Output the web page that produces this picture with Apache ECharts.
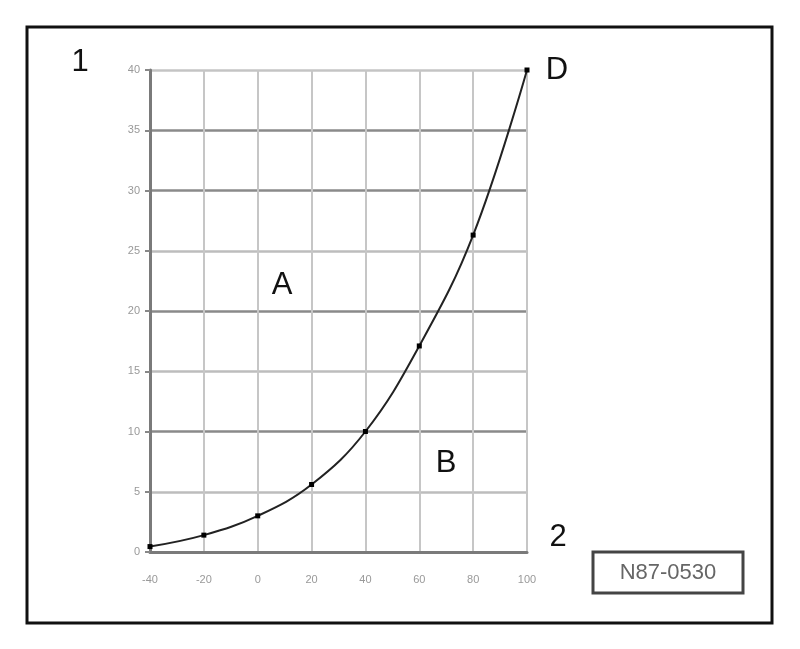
<!DOCTYPE html>
<html>
<head>
<meta charset="utf-8">
<script src="https://cdn.jsdelivr.net/npm/echarts@6/dist/echarts.min.js"></script>
<style>html,body{margin:0;padding:0;background:#fff}#c{width:800px;height:649px}</style>
</head>
<body>
<div id="c"></div>
<script>
var xValues = [-40, -20, 0, 20, 40, 60, 80, 100];
var yValues = [0.45, 1.4, 3.0, 5.6, 10.0, 17.1, 26.3, 40.0];
var xTicks = [-40, -20, 0, 20, 40, 60, 80, 100];
var yTicks = [0, 5, 10, 15, 20, 25, 30, 35, 40];
var hGridColors = ['#888', '#bdbdbd', '#8a8a8a', '#bdbdbd', '#8a8a8a', '#bdbdbd', '#8a8a8a', '#8a8a8a', '#c4c4c4'];
var cornerLabels = [
  {text: '1', x: 80, y: 62},
  {text: 'D', x: 557, y: 70},
  {text: 'A', x: 282, y: 285},
  {text: 'B', x: 446, y: 463},
  {text: '2', x: 558, y: 537}
];
var boxLabel = 'N87-0530';

var chart = echarts.init(document.getElementById('c'));
var graphics = [
  {type: 'rect', shape: {x: 27, y: 27, width: 745, height: 596}, style: {fill: 'none', stroke: '#111', lineWidth: 3}, z: 10},
  {type: 'rect', shape: {x: 593, y: 552, width: 150, height: 41}, style: {fill: '#fff', stroke: '#444', lineWidth: 3}, z: 10},
  {type: 'text', x: 668, y: 573, style: {text: boxLabel, fill: '#666', font: '22px "Liberation Sans", Arial, sans-serif', textAlign: 'center', textVerticalAlign: 'middle'}, z: 11}
];
cornerLabels.forEach(function (l) {
  graphics.push({type: 'text', x: l.x, y: l.y, style: {text: l.text, fill: '#111', font: '31px "Liberation Sans", Arial, sans-serif', textAlign: 'center', textVerticalAlign: 'middle'}, z: 11});
});

chart.setOption({
  animation: false,
  backgroundColor: '#fff',
  grid: {left: 150, right: 273, top: 70, bottom: 97, containLabel: false},
  xAxis: {
    type: 'value', min: -40, max: 100, interval: 20,
    axisLine: {show: true, onZero: false, lineStyle: {color: '#7a7a7a', width: 3}},
    axisTick: {show: false},
    axisLabel: {color: '#999', fontSize: 11, margin: 22, fontFamily: 'Liberation Sans',
      formatter: function (v) { return xTicks.indexOf(v) >= 0 ? String(v) : ''; }},
    splitLine: {show: true, lineStyle: {color: '#c6c6c6', width: 2}}
  },
  yAxis: {
    type: 'value', min: 0, max: 40, interval: 5,
    axisLine: {show: true, onZero: false, lineStyle: {color: '#7a7a7a', width: 3}},
    axisTick: {show: true, length: 5, lineStyle: {color: '#888', width: 2}},
    axisLabel: {color: '#999', fontSize: 11, margin: 10, fontFamily: 'Liberation Sans',
      formatter: function (v) { return yTicks.indexOf(v) >= 0 ? String(v) : ''; }},
    splitLine: {show: true, lineStyle: {color: hGridColors, width: 2.5}}
  },
  series: [{
    type: 'line',
    data: xValues.map(function (x, i) { return [x, yValues[i]]; }),
    smooth: 0.4,
    symbol: 'rect', symbolSize: 5,
    lineStyle: {color: '#222', width: 2},
    itemStyle: {color: '#000'},
    z: 5
  }],
  graphic: graphics
});
</script>
</body>
</html>
